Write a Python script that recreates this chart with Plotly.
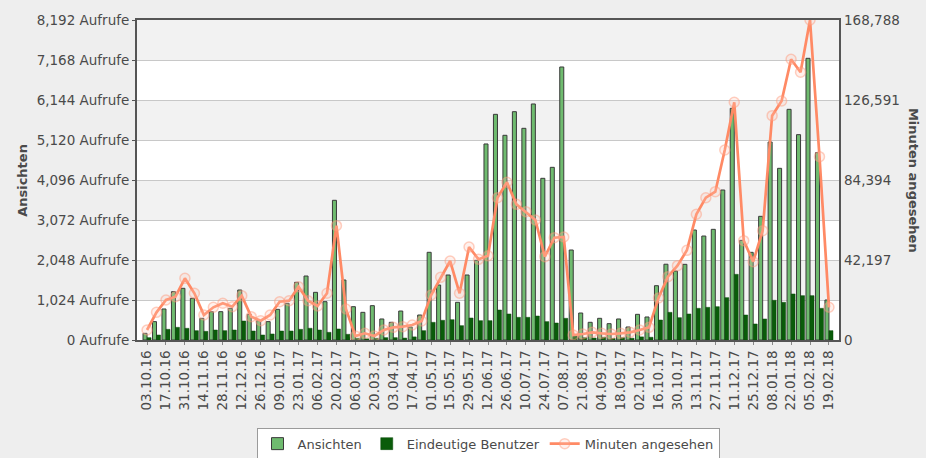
import plotly.graph_objects as go

weeks = [
    "03.10.16", "10.10.16", "17.10.16", "24.10.16", "31.10.16", "07.11.16", "14.11.16", "21.11.16",
    "28.11.16", "05.12.16", "12.12.16", "19.12.16", "26.12.16", "02.01.17", "09.01.17", "16.01.17",
    "23.01.17", "30.01.17", "06.02.17", "13.02.17", "20.02.17", "27.02.17", "06.03.17", "13.03.17",
    "20.03.17", "27.03.17", "03.04.17", "10.04.17", "17.04.17", "24.04.17", "01.05.17", "08.05.17",
    "15.05.17", "22.05.17", "29.05.17", "05.06.17", "12.06.17", "19.06.17", "26.06.17", "03.07.17",
    "10.07.17", "17.07.17", "24.07.17", "31.07.17", "07.08.17", "14.08.17", "21.08.17", "28.08.17",
    "04.09.17", "11.09.17", "18.09.17", "25.09.17", "02.10.17", "09.10.17", "16.10.17", "23.10.17",
    "30.10.17", "06.11.17", "13.11.17", "20.11.17", "27.11.17", "04.12.17", "11.12.17", "18.12.17",
    "25.12.17", "01.01.18", "08.01.18", "15.01.18", "22.01.18", "29.01.18", "05.02.18", "12.02.18",
    "19.02.18",
]

ansichten = [
    171, 470, 794, 1237, 1323, 1067, 555, 725, 725, 811, 1280, 657, 495, 470, 785, 939,
    1476, 1638, 1220, 981, 3576, 1536, 853, 708, 879, 538, 453, 742, 333, 640, 2245, 1408,
    1664, 965, 1664, 2040, 5018, 5777, 5240, 5845, 5419, 6042, 4139, 4420, 6989, 2304, 691, 453,
    555, 418, 538, 333, 657, 589, 1390, 1940, 1766, 1937, 2816, 2662, 2833, 3840, 5931, 2551,
    2244, 3166, 5069, 4395, 5905, 5257, 7211, 4796, 1024,
]

benutzer = [
    60, 128, 273, 324, 299, 239, 222, 256, 239, 256, 486, 230, 128, 154, 230, 230,
    273, 300, 256, 196, 282, 145, 43, 30, 43, 60, 60, 50, 80, 239, 452, 504,
    520, 367, 563, 495, 495, 768, 666, 580, 580, 614, 470, 435, 555, 100, 60, 50,
    70, 40, 60, 45, 80, 70, 512, 708, 572, 666, 811, 836, 853, 1084, 1681, 640,
    410, 538, 1016, 965, 1178, 1135, 1135, 811, 239,
]

minuten = [
    5275, 14600, 21100, 22840, 32540, 24630, 13190, 17250, 19360, 17580, 23370, 12300, 10200, 13190, 20200, 20730,
    28110, 20730, 17930, 24630, 60300, 16350, 2110, 3530, 2110, 5275, 6680, 7030, 7910, 10020, 23740, 33060,
    41670, 24630, 49050, 42550, 44400, 75060, 83180, 71570, 67680, 63300, 43950, 53970, 54330, 2640, 3160, 4040,
    3530, 3160, 3530, 4040, 5275, 6680, 22150, 33400, 39200, 47300, 66300, 75060, 78230, 100200, 125400, 52400,
    41300, 57670, 118330, 126060, 148060, 141200, 168788, 96700, 17250,
]

left_ticks = [0, 1024, 2048, 3072, 4096, 5120, 6144, 7168, 8192]
left_ticktext = [f"{v:,} Aufrufe" for v in left_ticks]
right_ticks = [0, 42197, 84394, 126591, 168788]
right_ticktext = [f"{v:,}" for v in right_ticks]

FONT = "DejaVu Sans, Verdana, sans-serif"
TXT = "#4a4a4a"

fig = go.Figure()
fig.add_trace(go.Bar(
    x=weeks, y=ansichten, name="Ansichten",
    marker=dict(color="#6fbb6f", line=dict(color="#3a3a3a", width=1)),
    yaxis="y",
))
fig.add_trace(go.Bar(
    x=weeks, y=benutzer, name="Eindeutige Benutzer",
    marker=dict(color="#0a5c0a", line=dict(color="#0a4a0a", width=0.5)),
    yaxis="y",
))
fig.add_trace(go.Scatter(
    x=weeks, y=minuten, name="Minuten angesehen", mode="lines+markers",
    line=dict(color="#ff8a65", width=2.7),
    marker=dict(size=10, color="rgba(255,200,185,0.25)",
                line=dict(color="rgba(255,150,120,0.45)", width=1.5)),
    yaxis="y2",
))

shapes = []
for lo in [1024, 3072, 5120, 7168]:
    shapes.append(dict(type="rect", xref="paper", x0=0, x1=1, yref="y", y0=lo, y1=lo + 1024,
                       fillcolor="#f2f2f2", line=dict(width=0), layer="below"))

fig.update_layout(
    width=926, height=458,
    margin=dict(l=137, r=87, t=20, b=118, autoexpand=False),
    paper_bgcolor="#eeeeee",
    plot_bgcolor="#ffffff",
    font=dict(family=FONT, size=13, color=TXT),
    barmode="group",
    bargap=0.15,
    bargroupgap=0,
    showlegend=True,
    legend=dict(
        orientation="h", x=0.5, xanchor="center", y=-0.274, yanchor="top",
        bgcolor="#ffffff", bordercolor="#9a9a9a", borderwidth=1,
        font=dict(family=FONT, size=13, color=TXT), itemwidth=30,
    ),
    xaxis=dict(
        type="category", range=[-1.06, 73.06], automargin=False,
        tickmode="array", tickvals=weeks[::2], ticktext=weeks[::2],
        tickangle=-90, tickfont=dict(family=FONT, size=13.5, color=TXT),
        showgrid=False, showline=True, linecolor="#555555", linewidth=2, mirror=True,
        ticks="outside", ticklen=3, tickcolor="#888888",
    ),
    yaxis=dict(
        range=[0, 8192], tickmode="array", tickvals=left_ticks, ticktext=left_ticktext,
        tickfont=dict(family=FONT, size=13.5, color=TXT), automargin=False,
        showgrid=True, gridcolor="#c8c8c8", gridwidth=1, zeroline=False,
        showline=True, linecolor="#555555", linewidth=2, mirror=True,
        ticks="outside", ticklen=3, tickcolor="#555555",
    ),
    yaxis2=dict(
        range=[0, 168788], overlaying="y", side="right", automargin=False,
        tickmode="array", tickvals=right_ticks, ticktext=right_ticktext,
        tickfont=dict(family=FONT, size=13.5, color=TXT),
        showgrid=False, zeroline=False, showline=False,
        ticks="", ticklabelstandoff=4,
    ),
    shapes=shapes,
    annotations=[
        dict(text="<b>Ansichten</b>", xref="paper", yref="paper", x=-0.164, y=0.5,
             textangle=-90, showarrow=False, font=dict(family=FONT, size=13, color=TXT),
             xanchor="center", yanchor="middle"),
        dict(text="<b>Minuten angesehen</b>", xref="paper", yref="paper", x=1.107, y=0.5,
             textangle=90, showarrow=False, font=dict(family=FONT, size=13, color=TXT),
             xanchor="center", yanchor="middle"),
    ],
)

fig.write_html("out.html", config={"displayModeBar": False},
               post_script="document.body.style.margin='0';")
